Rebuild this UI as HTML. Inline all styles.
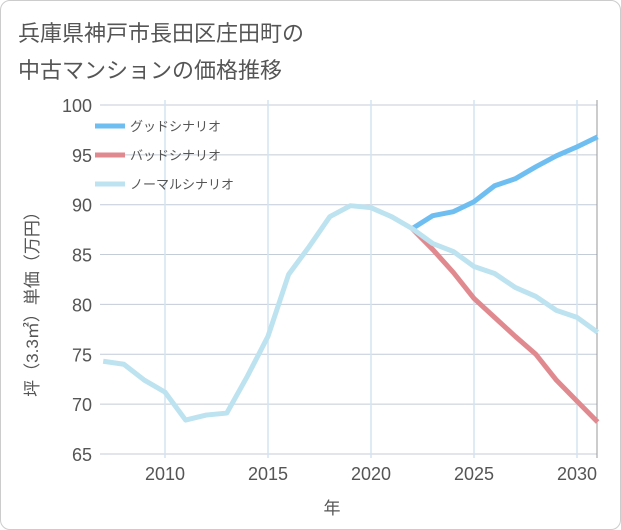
<!DOCTYPE html>
<html><head><meta charset="utf-8"><style>
body{margin:0;background:#fff;font-family:"Liberation Sans","Noto Sans CJK JP",sans-serif;}
#card{position:absolute;left:0;top:0;width:619px;height:528px;border:1px solid #ccc;border-radius:10px;background:#fff;}
.t{position:absolute;left:18px;font-size:22px;color:#555;}
</style></head><body>
<div id="card"></div>
<div class="t" style="top:16px">兵庫県神戸市長田区庄田町の</div>
<div class="t" style="top:53px">中古マンションの価格推移</div>
<svg id="c" width="621" height="530" style="position:absolute;left:0;top:0"></svg>
<script>
const years=[2007,2008,2009,2010,2011,2012,2013,2014,2015,2016,2017,2018,2019,2020,2021,2022,2023,2024,2025,2026,2027,2028,2029,2030,2031];
const normal=[74.3,74.0,72.4,71.2,68.4,68.9,69.1,72.8,76.8,83.0,85.8,88.8,89.9,89.7,88.8,87.6,86.1,85.3,83.8,83.1,81.7,80.8,79.4,78.7,77.2];
const goodYears=[2022,2023,2024,2025,2026,2027,2028,2029,2030,2031];
const good=[87.6,88.9,89.3,90.3,91.9,92.6,93.8,94.9,95.8,96.8];
const bad=[87.6,85.5,83.2,80.6,78.7,76.8,75.0,72.4,70.3,68.2];
const yTicks=[65,70,75,80,85,90,95,100];
const xTicks=[2010,2015,2020,2025,2030];
const L=100,R=597,T=100,B=458;
const x=v=>165+(v-2010)*20.6;
const y=v=>105+(100-v)*9.97;
const s=document.getElementById('c'),NS='http://www.w3.org/2000/svg';
function el(t,a,n){const e=document.createElementNS(NS,t);for(const k in a)e.setAttribute(k,a[k]);


s.appendChild(e);return e;}
yTicks.forEach(v=>{el('line',{x1:L,x2:R,y1:y(v),y2:y(v),stroke:'#c4ccd8','stroke-width':1},'y-gridline');
const t=el('text',{x:92,y:y(v)+7,'text-anchor':'end','font-size':18,fill:'#555'},'y-tick-label');t.textContent=v;});
xTicks.forEach(v=>{el('line',{x1:x(v),x2:x(v),y1:T,y2:B,stroke:'#d4e4f0','stroke-width':1.5},'x-gridline');
const t=el('text',{x:x(v),y:480,'text-anchor':'middle','font-size':18,fill:'#555'},'x-tick-label');t.textContent=v;});
el('line',{x1:R,x2:R,y1:T,y2:B,stroke:'#999','stroke-width':1},'plot-right-border');
function line(xs,ys,c,n){el('polyline',{points:xs.map((v,i)=>x(v)+','+y(ys[i])).join(' '),fill:'none',stroke:c,'stroke-width':5,'stroke-linejoin':'round'},n);}
line(goodYears,good,'#6fbef2','good-scenario-line');
line(goodYears,bad,'#e08a8f','bad-scenario-line');
line(years,normal,'#bde2f0','normal-scenario-line');
const leg=[['グッドシナリオ','#6fbef2'],['バッドシナリオ','#e08a8f'],['ノーマルシナリオ','#bde2f0']];
leg.forEach((l,i)=>{const yy=126+i*29;el('line',{x1:95,x2:125,y1:yy,y2:yy,stroke:l[1],'stroke-width':5},'legend-swatch');
const t=el('text',{x:130,y:yy+5,'font-size':13,fill:'#555'},'legend-label');t.textContent=l[0];});
const yt=el('text',{x:0,y:0,'font-size':17,fill:'#555','text-anchor':'middle',transform:'translate(38,300) rotate(-90)'},'y-axis-title');yt.textContent='坪（3.3㎡）単価（万円）';
const xt=el('text',{x:332,y:514,'font-size':17,fill:'#555','text-anchor':'middle'},'x-axis-title');xt.textContent='年';
</script>
</body></html>
